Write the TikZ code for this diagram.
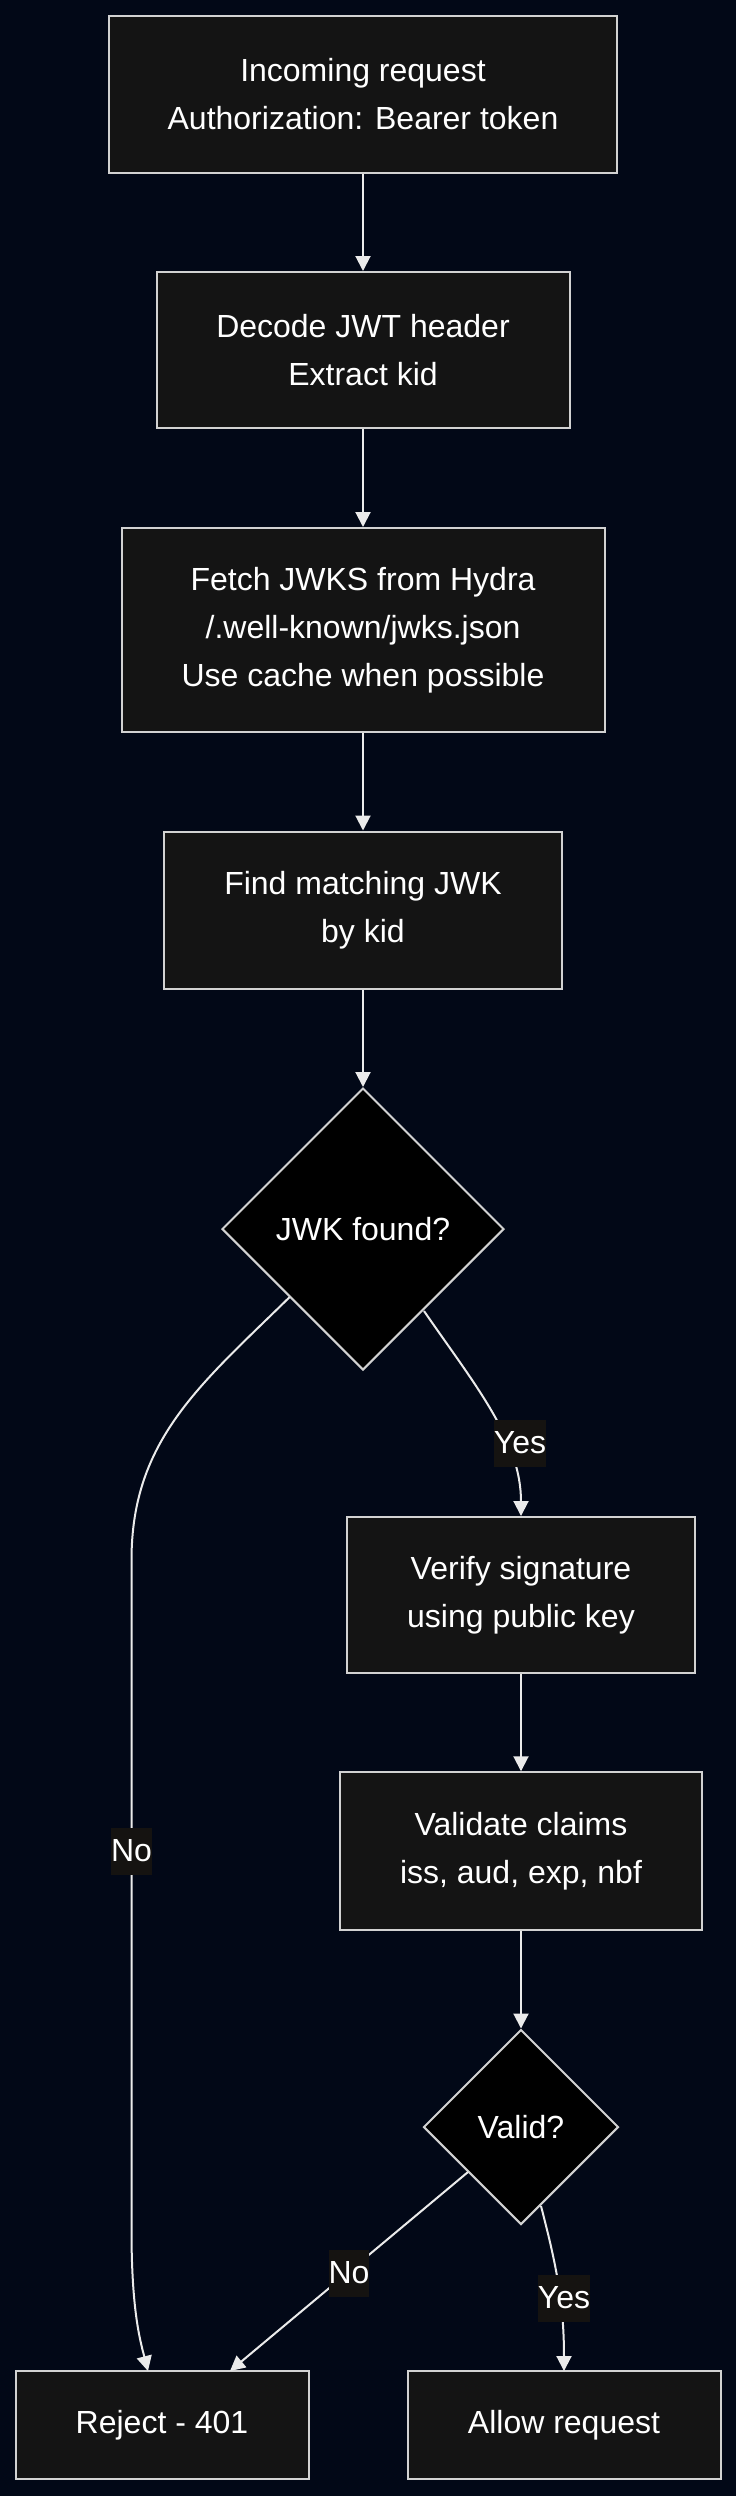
\documentclass[tikz,border=0pt]{standalone}
\usepackage{fontspec}
\setmainfont{Liberation Sans}
\usetikzlibrary{arrows.meta,shapes.geometric}
\definecolor{bgc}{RGB}{2,8,23}
\definecolor{boxfill}{RGB}{20,20,20}
\definecolor{boxline}{RGB}{210,210,210}
\definecolor{edgec}{RGB}{235,235,235}
\definecolor{lblbg}{RGB}{21,19,17}
\tikzset{
  px/.style={x=0.5pt,y=-0.5pt},
  box/.style={draw=boxline, line width=1pt, fill=boxfill, text=white, align=center,
    inner sep=0pt, font=\fontsize{16pt}{24pt}\selectfont},
  decision/.style={diamond, aspect=1, draw=boxline, line width=1pt, fill=black, text=white,
    inner sep=0pt, align=center, font=\fontsize{16pt}{24pt}\selectfont},
  flow/.style={draw=edgec, line width=1pt, -{Triangle[length=7.5pt,width=7.5pt]}},
  lbl/.style={fill=lblbg, text=white, inner xsep=0pt, inner ysep=0pt, minimum height=23.5pt,
    font=\fontsize{16pt}{24pt}\selectfont}
}
\begin{document}
\begin{tikzpicture}[px]
\fill[bgc] (0,0) rectangle (736,2496);
\useasboundingbox (0,0) rectangle (736,2496);

\node[box, minimum width=254pt, minimum height=78.5pt] (b1) at (363,94.5) {Incoming request\\Authorization: Bearer token};
\node[box, minimum width=206.5pt, minimum height=78pt] (b2) at (363,350) {Decode JWT header\\Extract kid};
\node[box, minimum width=241.5pt, minimum height=102pt] (b3) at (363,630) {Fetch JWKS from Hydra\\/.well-known/jwks.json\\Use cache when possible};
\node[box, minimum width=199pt, minimum height=78.5pt] (b4) at (363,910) {Find matching JWK\\by kid};
\node[decision, minimum width=141pt, minimum height=141pt] (d1) at (363,1229) {JWK found?};
\node[box, minimum width=174.25pt, minimum height=78pt] (b5) at (521,1595) {Verify signature\\using public key};
\node[box, minimum width=181.3pt, minimum height=78.75pt] (b6) at (521,1851) {Validate claims\\iss, aud, exp, nbf};
\node[decision, minimum width=97.5pt, minimum height=97.5pt] (d2) at (521,2127) {Valid?};
\node[box, minimum width=146.5pt, minimum height=54.25pt] (rej) at (162,2425) {Reject - 401};
\node[box, minimum width=156.5pt, minimum height=54.25pt] (allow) at (564,2425) {Allow request};

\draw[flow] (b1.south) -- (b2.north);
\draw[flow] (b2.south) -- (b3.north);
\draw[flow] (b3.south) -- (b4.north);
\draw[flow] (b4.south) -- (d1.north);
\draw[flow] (b5.south) -- (b6.north);
\draw[flow] (b6.south) -- (d2.north);

\coordinate (d1r) at (424,1311);
\coordinate (d1l) at (289.7,1297);
\draw[flow] (d1r) .. controls (475,1385) and (521,1440) .. (b5.north);
\draw[flow] (d1l) .. controls (200,1385) and (131.5,1440) .. (131.5,1560) -- (131.5,2230) .. controls (131.5,2310) and (140,2340) .. (148,2371);

\coordinate (d2l) at (468,2172);
\coordinate (d2r) at (541,2206);
\draw[flow] (d2l) -- (230,2371);
\draw[flow] (d2r) .. controls (555,2260) and (564,2300) .. (564,2371);

\node[lbl] (ly1) at (520,1443) {Yes};
\node[lbl] (ln1) at (131.5,1851) {No};
\node[lbl] (ln2) at (349,2273) {No};
\node[lbl] (ly2) at (564,2298) {Yes};
\end{tikzpicture}
\end{document}
